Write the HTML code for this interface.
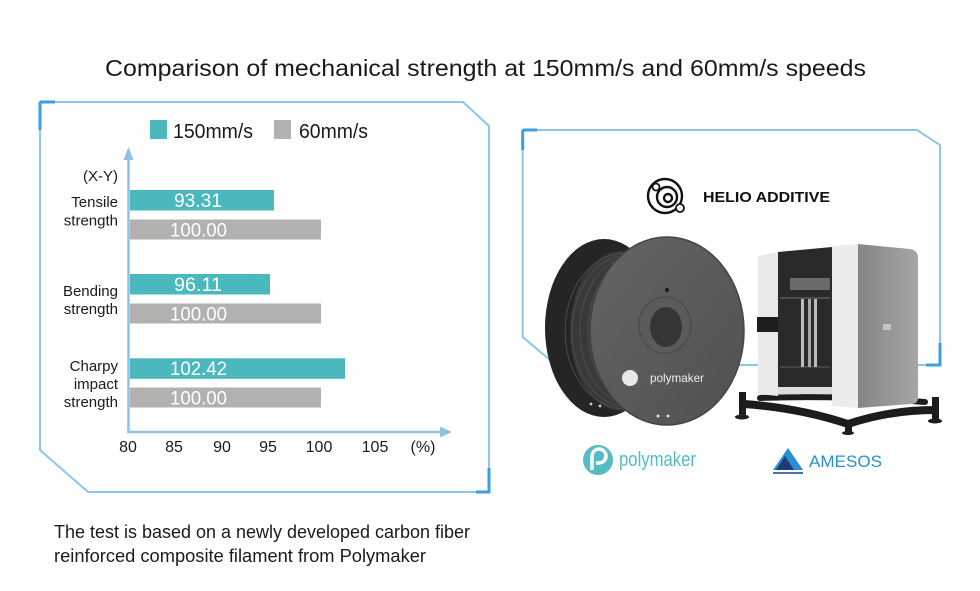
<!DOCTYPE html>
<html><head><meta charset="utf-8">
<style>
html,body{margin:0;padding:0;background:#fff;}
svg{display:block;}
text{font-family:"Liberation Sans",Arial,sans-serif;}
</style></head>
<body>
<svg width="980" height="591" viewBox="0 0 980 591" xmlns="http://www.w3.org/2000/svg">
<defs>
<linearGradient id="flange" x1="0" y1="0" x2="1" y2="1">
<stop offset="0" stop-color="#636466"/><stop offset="1" stop-color="#505153"/>
</linearGradient>
<linearGradient id="side" x1="0" y1="0" x2="1" y2="0">
<stop offset="0" stop-color="#858585"/><stop offset="1" stop-color="#a6a6a6"/>
</linearGradient>
</defs>
<rect width="980" height="591" fill="#fff"/>

<!-- Title -->
<text x="105" y="76" font-size="23" fill="#1a1a1a" textLength="761" lengthAdjust="spacingAndGlyphs">Comparison of mechanical strength at 150mm/s and 60mm/s speeds</text>

<!-- Left frame -->
<polygon points="40,102 463,102 489,126 489,492 88,492 40,450" fill="none" stroke="#8ec5ea" stroke-width="2"/>
<path d="M40,102 H55 M40,102 V130" stroke="#3b9ee0" stroke-width="3" fill="none"/>
<path d="M489,468 V492 H476" stroke="#3b9ee0" stroke-width="3" fill="none"/>

<!-- Legend -->
<rect x="150" y="120" width="17" height="19" fill="#4bb8bd"/>
<text x="173" y="138" font-size="20" fill="#1a1a1a" textLength="80" lengthAdjust="spacingAndGlyphs">150mm/s</text>
<rect x="274" y="120" width="17" height="19" fill="#b2b1b0"/>
<text x="299" y="138" font-size="20" fill="#1a1a1a" textLength="69" lengthAdjust="spacingAndGlyphs">60mm/s</text>

<!-- Axes -->
<line x1="128.5" y1="158" x2="128.5" y2="433" stroke="#8dc3e8" stroke-width="2.5"/>
<polygon points="128.5,147 123.5,160 133.5,160" fill="#8dc3e8"/>
<line x1="127" y1="432" x2="442" y2="432" stroke="#8dc3e8" stroke-width="2.5"/>
<polygon points="452,432 440,426.5 440,437.5" fill="#8dc3e8"/>

<!-- Category labels -->
<g font-size="15" fill="#1a1a1a" text-anchor="end">
<text x="118" y="181">(X-Y)</text>
<text x="118" y="207">Tensile</text>
<text x="118" y="225.5">strength</text>
<text x="118" y="296">Bending</text>
<text x="118" y="314">strength</text>
<text x="118" y="371">Charpy</text>
<text x="118" y="389">impact</text>
<text x="118" y="407">strength</text>
</g>

<!-- Bars -->
<rect x="130" y="190" width="144" height="20.5" fill="#4bb8bd"/>
<rect x="130" y="219.5" width="191" height="20" fill="#b2b1b0"/>
<rect x="130" y="274" width="140" height="20.5" fill="#4bb8bd"/>
<rect x="130" y="303.5" width="191" height="20" fill="#b2b1b0"/>
<rect x="130" y="358.3" width="215" height="20.5" fill="#4bb8bd"/>
<rect x="130" y="387.5" width="191" height="20" fill="#b2b1b0"/>

<g font-size="19" fill="#fff" text-anchor="middle">
<text x="198" y="207" textLength="48" lengthAdjust="spacingAndGlyphs">93.31</text>
<text x="198.5" y="236.5" textLength="57" lengthAdjust="spacingAndGlyphs">100.00</text>
<text x="198" y="291" textLength="48" lengthAdjust="spacingAndGlyphs">96.11</text>
<text x="198.5" y="320.5" textLength="57" lengthAdjust="spacingAndGlyphs">100.00</text>
<text x="198.5" y="375" textLength="57" lengthAdjust="spacingAndGlyphs">102.42</text>
<text x="198.5" y="404.5" textLength="57" lengthAdjust="spacingAndGlyphs">100.00</text>
</g>

<!-- X tick labels -->
<g font-size="16" fill="#1a1a1a" text-anchor="middle">
<text x="128" y="452">80</text>
<text x="174" y="452">85</text>
<text x="222" y="452">90</text>
<text x="268" y="452">95</text>
<text x="319" y="452">100</text>
<text x="375" y="452">105</text>
<text x="423" y="452">(%)</text>
</g>

<!-- Bottom note -->
<text x="54" y="538" font-size="18" fill="#1a1a1a" textLength="416" lengthAdjust="spacingAndGlyphs">The test is based on a newly developed carbon fiber</text>
<text x="54" y="562" font-size="18" fill="#1a1a1a" textLength="372" lengthAdjust="spacingAndGlyphs">reinforced composite filament from Polymaker</text>

<!-- Right frame -->
<polyline points="556,365 522.7,337 522.7,130 917,130 940,145 940,365 556,365" fill="none" stroke="#8ec5ea" stroke-width="2"/>
<path d="M522.7,130 H537 M522.7,130 V150" stroke="#3b9ee0" stroke-width="3" fill="none"/>
<path d="M940,343 V365 H926" stroke="#3b9ee0" stroke-width="3" fill="none"/>

<!-- HELIO ADDITIVE -->
<g fill="none" stroke="#111" stroke-width="2.4">
<circle cx="665" cy="196" r="17"/>
<circle cx="667" cy="197" r="10"/>
<circle cx="668" cy="198" r="4"/>
</g>
<circle cx="656" cy="187" r="3.5" fill="#fff" stroke="#111" stroke-width="1.8"/>
<circle cx="680" cy="208" r="4" fill="#fff" stroke="#111" stroke-width="1.8"/>
<text x="703" y="202" font-size="15" font-weight="bold" fill="#111" textLength="127" lengthAdjust="spacingAndGlyphs">HELIO ADDITIVE</text>

<!-- Spool -->
<ellipse cx="604" cy="328" rx="59" ry="89" fill="#252525"/>
<ellipse cx="622" cy="331" rx="52" ry="80" fill="#393939"/>
<g fill="none" stroke="#4c4c4c" stroke-width="1">
<ellipse cx="625" cy="331" rx="60" ry="78"/>
<ellipse cx="628" cy="331" rx="56" ry="76"/>
<ellipse cx="632" cy="331" rx="52" ry="74"/>
<ellipse cx="636" cy="331" rx="48" ry="72"/>
</g>
<ellipse cx="667" cy="331" rx="77" ry="94" fill="url(#flange)"/>
<ellipse cx="667" cy="331" rx="77" ry="94" fill="none" stroke="#444" stroke-width="1.5"/>
<ellipse cx="665" cy="325" rx="26" ry="28" fill="#5a5b5d" stroke="#4a4a4c" stroke-width="1.2"/>
<ellipse cx="666" cy="327" rx="16" ry="20" fill="#363637"/>
<circle cx="667" cy="290" r="2" fill="#1a1a1a"/>
<circle cx="630" cy="378" r="8" fill="#e8e8e8"/>
<text x="650" y="382" font-size="12" fill="#eee" textLength="54" lengthAdjust="spacingAndGlyphs">polymaker</text>
<circle cx="658" cy="416" r="1.5" fill="#ddd"/>
<circle cx="668" cy="416" r="1.5" fill="#ddd"/>
<circle cx="591" cy="404" r="1.4" fill="#ccc"/>
<circle cx="600" cy="406" r="1.4" fill="#ccc"/>

<!-- Printer stand -->
<g stroke="#1c1c1c" fill="none" stroke-linecap="round">
<path d="M744,404 Q800,408 848,424 Q890,410 935,410" stroke-width="8"/>
<path d="M760,398 Q840,395 925,402" stroke-width="6"/>
</g>
<rect x="739" y="392" width="7" height="24" fill="#1c1c1c"/>
<ellipse cx="742" cy="417" rx="7" ry="2.5" fill="#1c1c1c"/>
<rect x="932" y="397" width="7" height="23" fill="#1c1c1c"/>
<ellipse cx="935" cy="421" rx="7" ry="2.5" fill="#1c1c1c"/>
<rect x="845" y="422" width="7" height="10" fill="#1c1c1c"/>
<ellipse cx="848" cy="433" rx="6" ry="2" fill="#1c1c1c"/>

<!-- Printer body -->
<path d="M858,244 L910,249 Q918,250 918,258 L918,398 Q918,404 911,404 L858,408 Z" fill="url(#side)"/>
<rect x="883" y="324" width="8" height="6" fill="#c4c4c4"/>
<polygon points="832,246 858,244 858,408 832,406" fill="#ececec"/>
<polygon points="778,252 832,247 832,394 778,394" fill="#2a2a2a"/>
<polygon points="758,256 778,252 778,396 758,394" fill="#e9e9e9"/>
<rect x="778" y="387" width="54" height="7" fill="#dcdcdc"/>
<rect x="790" y="278" width="40" height="12" fill="#6a6a6a"/>
<line x1="780" y1="298" x2="830" y2="298" stroke="#666" stroke-width="1.2"/>
<line x1="780" y1="367" x2="830" y2="367" stroke="#555" stroke-width="1.2"/>
<rect x="801" y="299" width="3" height="68" fill="#bdbdbd"/>
<rect x="808" y="299" width="3" height="68" fill="#a8a8a8"/>
<rect x="814" y="299" width="3" height="68" fill="#bdbdbd"/>
<rect x="757" y="317" width="21" height="15" fill="#1e1e1e"/>

<!-- Bottom logos -->
<circle cx="598" cy="460" r="15" fill="#56bcc4"/>
<path d="M592,470 V456 A7,7 0 1 1 599,463 H596" fill="none" stroke="#fff" stroke-width="3.5"/>
<text x="619" y="466" font-size="20" fill="#56bcc4" textLength="77" lengthAdjust="spacingAndGlyphs">polymaker</text>

<polygon points="788,448 803,470 773,470" fill="#2a8fd6"/>
<polygon points="785,456 794,470 776,470" fill="#1f3a75"/>
<line x1="773" y1="473" x2="803" y2="473" stroke="#1f3a75" stroke-width="1.5"/>
<text x="809" y="467" font-size="17" fill="#2a8fd6" textLength="73" lengthAdjust="spacingAndGlyphs">AMESOS</text>
</svg>
</body></html>
